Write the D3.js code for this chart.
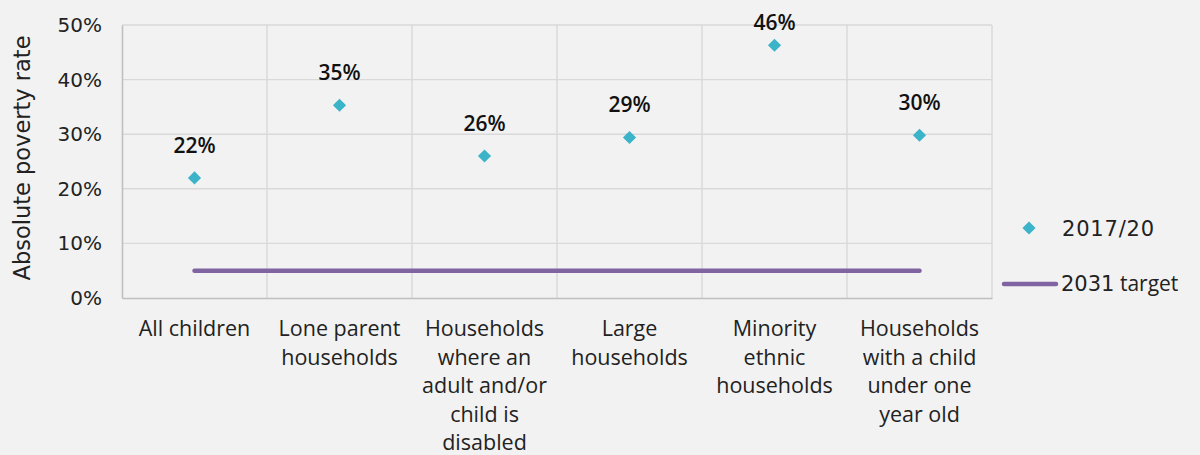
<!DOCTYPE html>
<html>
<head>
<meta charset="utf-8">
<script src="https://cdn.jsdelivr.net/npm/d3@7"></script>
<style>
  html, body { margin: 0; padding: 0; background: #f2f2f2; }
  svg { display: block; }
</style>
</head>
<body>
<svg id="chart" width="1200" height="455"></svg>
<script>
// Child poverty by household type, 2017/20, against the 2031 target
const categories = [
  ["All children"],
  ["Lone parent", "households"],
  ["Households", "where an", "adult and/or", "child is", "disabled"],
  ["Large", "households"],
  ["Minority", "ethnic", "households"],
  ["Households", "with a child", "under one", "year old"]
];
const rates = [0.22, 0.353, 0.26, 0.294, 0.463, 0.298];
const rateLabels = ["22%", "35%", "26%", "29%", "46%", "30%"];
const targetValue = 0.05;
const yTicks = [0, 0.1, 0.2, 0.3, 0.4, 0.5];
const seriesNames = ["2017/20", "2031 target"];

const svg = d3.select("#chart");
const margin = { left: 122, right: 208, top: 25, bottom: 157 };
const width = 1200 - margin.left - margin.right;
const height = 455 - margin.top - margin.bottom;
const g = svg.append("g").attr("transform", `translate(${margin.left},${margin.top})`);

const x = d3.scaleBand().domain(d3.range(categories.length)).range([0, width]).padding(0);
const y = d3.scaleLinear().domain([0, 0.5]).range([height, 0]);

const gridColor = "#d9d9d9";
const pointColor = "#3bb3c9";
const targetColor = "#8064a2";
const textFont = "'Open Sans', Lato, sans-serif";
const tickFont = "'DejaVu Sans', Verdana, sans-serif";

// horizontal gridlines
g.append("g").selectAll("line").data(yTicks.slice(1)).join("line")
  .attr("x1", 0).attr("x2", width)
  .attr("y1", d => y(d)).attr("y2", d => y(d))
  .attr("stroke", gridColor).attr("stroke-width", 1.4);

// vertical gridlines at category boundaries
const bounds = d3.range(1, categories.length + 1).map(i => i === categories.length ? width : x(i));
g.append("g").selectAll("line").data(bounds).join("line")
  .attr("x1", d => d).attr("x2", d => d)
  .attr("y1", 0).attr("y2", height)
  .attr("stroke", gridColor).attr("stroke-width", 1.4);

// axes
const yAxis = g.append("g").call(d3.axisLeft(y).tickValues(yTicks).tickFormat(d3.format(".0%")).tickSize(0).tickPadding(20));
yAxis.select(".domain").attr("stroke", "#bfbfbf").attr("stroke-width", 1.6);
yAxis.selectAll("text").attr("font-family", tickFont).attr("font-size", 20).attr("fill", "#222");

const xAxis = g.append("g").attr("transform", `translate(0,${height})`)
  .call(d3.axisBottom(x).tickSize(0).tickFormat(""));
xAxis.select(".domain").attr("stroke", "#bfbfbf").attr("stroke-width", 1.6);

// category labels (wrapped)
xAxis.selectAll(".tick").each(function(i) {
  const t = d3.select(this).append("text")
    .attr("text-anchor", "middle")
    .attr("font-family", textFont).attr("font-size", 21.5).attr("fill", "#222");
  categories[i].forEach((line, k) => {
    t.append("tspan").attr("x", 0).attr("y", 38 + k * 28.6).text(line);
  });
});

// y axis title
svg.append("text")
  .attr("transform", `translate(30,${margin.top + 133}) rotate(-90)`)
  .attr("text-anchor", "middle")
  .attr("font-family", tickFont).attr("font-size", 22.5).attr("fill", "#222")
  .text("Absolute poverty rate");

// target line from first to last category centre
const cx = i => x(i) + x.bandwidth() / 2;
g.append("line")
  .attr("x1", cx(0)).attr("x2", cx(categories.length - 1))
  .attr("y1", y(targetValue)).attr("y2", y(targetValue))
  .attr("stroke", targetColor).attr("stroke-width", 4.5).attr("stroke-linecap", "round");

// points
const diamond = d3.symbol().type(d3.symbolDiamond2).size(110);
g.append("g").selectAll("path").data(rates).join("path")
  .attr("d", diamond)
  .attr("transform", (d, i) => `translate(${cx(i)},${y(d)})`)
  .attr("fill", pointColor);

// value labels, kept inside the top edge of the chart
g.append("g").selectAll("text").data(rates).join("text")
  .attr("x", (d, i) => cx(i)).attr("y", d => Math.max(y(d) - 25, 5))
  .attr("text-anchor", "middle")
  .attr("font-family", textFont).attr("font-weight", 600).attr("font-size", 21).attr("fill", "#111")
  .text((d, i) => rateLabels[i]);

// legend
const lg = svg.append("g");
lg.append("path").attr("d", diamond).attr("transform", "translate(1029,228)").attr("fill", pointColor);
lg.append("text").attr("x", 1062).attr("y", 236)
  .attr("font-family", tickFont).attr("font-size", 21).attr("letter-spacing", 0.8).attr("fill", "#222")
  .text(seriesNames[0]);
lg.append("line").attr("x1", 1004).attr("x2", 1056).attr("y1", 284).attr("y2", 284)
  .attr("stroke", targetColor).attr("stroke-width", 4.5).attr("stroke-linecap", "round");
const [tYear, ...tRest] = seriesNames[1].split(" ");
const tl = lg.append("text").attr("x", 1061).attr("y", 291).attr("fill", "#222").attr("font-size", 21);
tl.append("tspan").attr("font-family", tickFont).text(tYear);
tl.append("tspan").attr("font-family", textFont).text(" " + tRest.join(" "));
</script>
</body>
</html>
